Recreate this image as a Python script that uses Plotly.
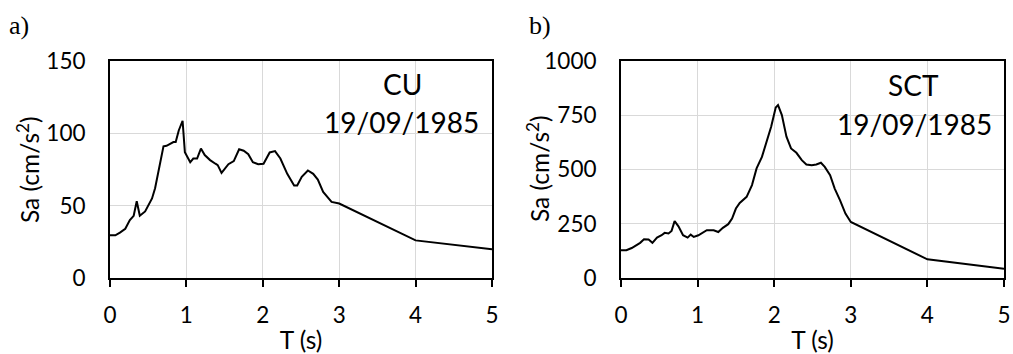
import plotly.graph_objects as go

# ---------------- data ----------------
T_CU = [0.0, 0.07, 0.13, 0.2, 0.26, 0.31, 0.35, 0.39, 0.46, 0.55, 0.59, 0.65, 0.70,
        0.74, 0.83, 0.86, 0.90, 0.95, 0.98, 1.05, 1.09, 1.14, 1.19, 1.24, 1.31, 1.38,
        1.41, 1.46, 1.55, 1.62, 1.69, 1.75, 1.81, 1.87, 1.94, 2.01, 2.09, 2.16, 2.23,
        2.32, 2.41, 2.45, 2.51, 2.59, 2.66, 2.72, 2.79, 2.90, 3.0, 4.0, 5.0]
SA_CU = [29.5, 29.5, 31.4, 34, 40, 43, 53, 43, 46, 55, 62, 79, 91,
         91.4, 94, 94, 102, 108.7, 87, 80, 82.6, 82.6, 89.5, 85, 81.5, 79,
         78, 72.7, 78.7, 80.8, 89, 88, 85.6, 80, 78.7, 79, 86.8, 87.7, 82.6,
         72, 64, 64, 70, 74.3, 72, 68, 59.5, 52.6, 51.5, 26, 19.8]

T_SCT = [0.0, 0.07, 0.14, 0.2, 0.25, 0.30, 0.36, 0.41, 0.47, 0.53, 0.57, 0.62, 0.66,
         0.70, 0.75, 0.81, 0.87, 0.91, 0.95, 1.01, 1.07, 1.12, 1.21, 1.27, 1.33, 1.40,
         1.45, 1.50, 1.55, 1.64, 1.71, 1.77, 1.84, 1.90, 1.96, 2.02, 2.05, 2.10, 2.16,
         2.22, 2.29, 2.36, 2.42, 2.49, 2.55, 2.61, 2.66, 2.73, 2.79, 2.86, 2.93, 3.0,
         4.0, 5.0]
SA_SCT = [128, 128, 138, 151, 162, 178, 177, 162, 186, 197, 208, 205, 217,
          262, 238, 197, 186, 200, 189, 197, 209, 220, 220, 212, 231, 248,
          274, 320, 346, 374, 428, 505, 558, 628, 697, 786, 797, 751, 651,
          597, 577, 543, 523, 520, 523, 531, 512, 474, 412, 358, 297, 258,
          86, 43]

X_TICKS = [0, 1, 2, 3, 4, 5]
Y_TICKS_CU = [0, 50, 100, 150]
Y_TICKS_SCT = [0, 250, 500, 750, 1000]
PANEL_LABELS = ["a)", "b)"]
STATION_LABELS = ["CU", "SCT"]
DATE_LABEL = "19/09/1985"
X_TITLE = "T (s)"
Y_TITLE = "Sa (cm/s<sup>2</sup>)"

# ---------------- layout geometry ----------------
W, H = 1013, 354
ML, MR, MT, MB = 110, 9, 61, 76
PW = W - ML - MR
PH = H - MT - MB


def fx(p):
    return (p - ML) / PW


def fy(p):
    return (H - MB - p) / PH


TICK_FONT = dict(family="Lato", size=22.5, color="black")
TITLE_FONT = dict(family="Lato", size=24.5, color="black")
GRID = "#d9d9d9"

fig = go.Figure()
fig.add_trace(go.Scatter(x=T_CU, y=SA_CU, mode="lines",
                         line=dict(color="black", width=2),
                         xaxis="x", yaxis="y", showlegend=False))
fig.add_trace(go.Scatter(x=T_SCT, y=SA_SCT, mode="lines",
                         line=dict(color="black", width=2),
                         xaxis="x2", yaxis="y2", showlegend=False))

xcommon = dict(range=[0, 5], tickvals=X_TICKS, ticks="outside", ticklen=7,
               tickwidth=2, tickcolor="black", showline=True, linewidth=2,
               linecolor="black", mirror=True, showgrid=True, gridcolor=GRID,
               gridwidth=1, zeroline=False, tickfont=TICK_FONT,
               ticklabelstandoff=9, automargin=False,
               title=dict(text=X_TITLE, font=TITLE_FONT, standoff=11))
ycommon = dict(ticks="", showline=True, linewidth=2, linecolor="black",
               mirror=True, showgrid=True, gridcolor=GRID, gridwidth=1,
               zeroline=False, tickfont=TICK_FONT, ticklabelstandoff=18,
               automargin=False)

fig.update_layout(
    width=W, height=H,
    margin=dict(l=ML, r=MR, t=MT, b=MB, pad=0, autoexpand=False),
    paper_bgcolor="white", plot_bgcolor="white",
    xaxis=dict(domain=[0, fx(492)], anchor="y", **xcommon),
    yaxis=dict(domain=[0, 1], anchor="x", range=[0, 150],
               tickvals=Y_TICKS_CU, **ycommon),
    xaxis2=dict(domain=[fx(621), 1], anchor="y2", **xcommon),
    yaxis2=dict(domain=[0, 1], anchor="x2", range=[0, 1000],
                tickvals=Y_TICKS_SCT, **ycommon),
)

ann_font = dict(family="Lato", size=28, color="black")
label_font = dict(family="Liberation Serif", size=26, color="black")
anns = [
    dict(text=PANEL_LABELS[0], x=fx(7), y=fy(25), xanchor="left", font=label_font),
    dict(text=PANEL_LABELS[1], x=fx(527), y=fy(25), xanchor="left", font=label_font),
    dict(text=STATION_LABELS[0], x=fx(402), y=fy(84), font=ann_font),
    dict(text=DATE_LABEL, x=fx(401.7), y=fy(122), font=ann_font),
    dict(text=STATION_LABELS[1], x=fx(913), y=fy(85), font=ann_font),
    dict(text=DATE_LABEL, x=fx(914.5), y=fy(124), font=ann_font),
    dict(text=Y_TITLE, x=fx(28), y=fy(170), textangle=-90, font=TITLE_FONT),
    dict(text=Y_TITLE, x=fx(538), y=fy(169), textangle=-90, font=TITLE_FONT),
]
for a in anns:
    a.setdefault("xanchor", "center")
    a.setdefault("yanchor", "middle")
    fig.add_annotation(xref="paper", yref="paper", showarrow=False, **a)

fig.write_html("out.html")
